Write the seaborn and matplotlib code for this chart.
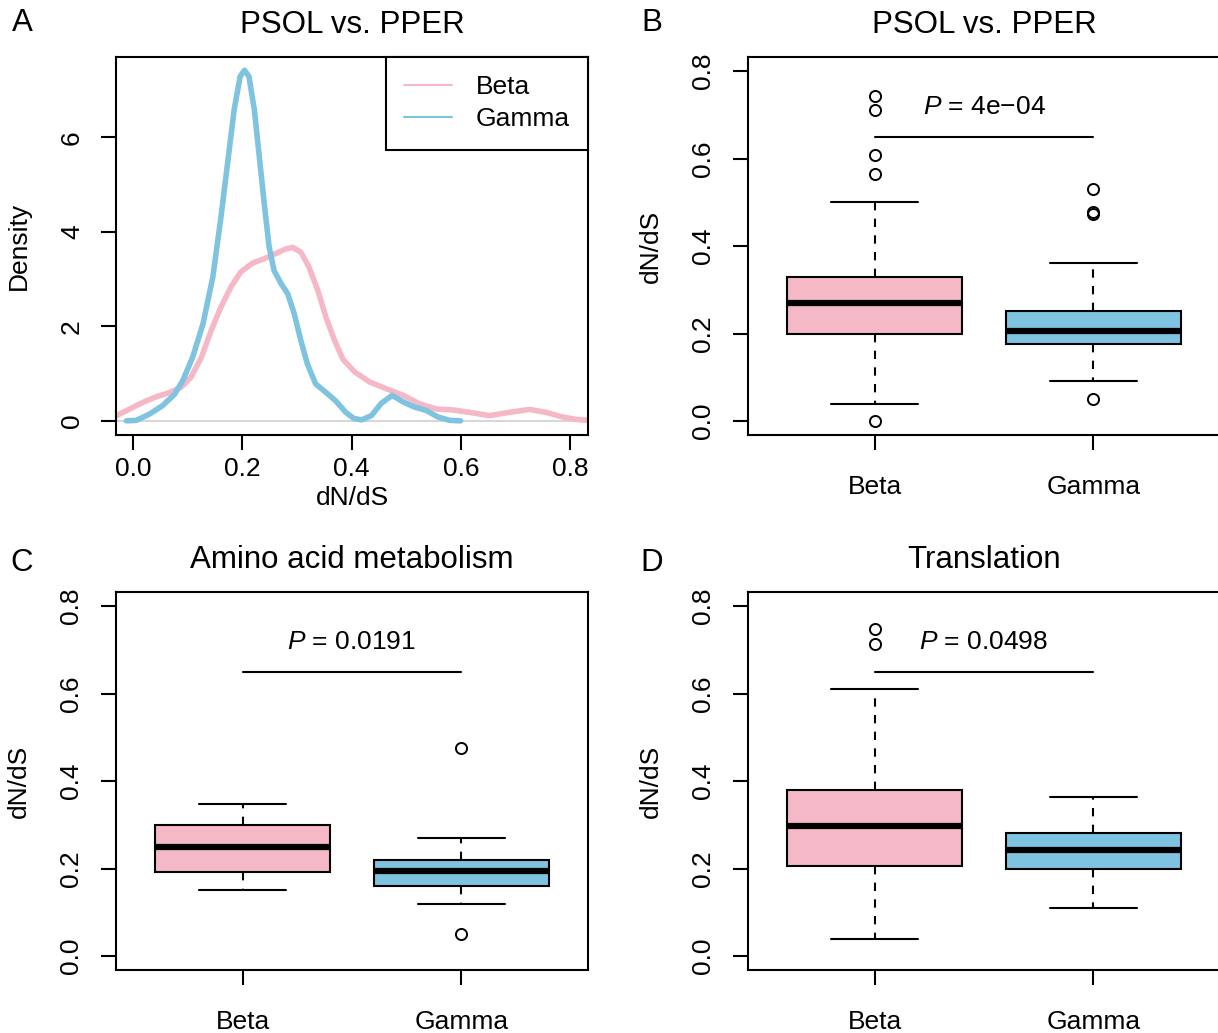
import numpy as np
import pandas as pd
import matplotlib
matplotlib.use("Agg")
import matplotlib.pyplot as plt
from matplotlib.lines import Line2D
import seaborn as sns

# ---------------- data ----------------
groups = ["Beta", "Gamma"]
colors = {"Beta": "#F5B8C6", "Gamma": "#7EC3E0"}

# Panel A: density curves
beta_x = [-0.030, -0.006, 0.018, 0.043, 0.067, 0.088, 0.106, 0.125, 0.143, 0.161,
          0.179, 0.197, 0.219, 0.240, 0.261, 0.280, 0.292, 0.307, 0.322, 0.338,
          0.353, 0.368, 0.384, 0.406, 0.433, 0.463, 0.494, 0.524, 0.555, 0.585,
          0.615, 0.652, 0.688, 0.725, 0.755, 0.786, 0.810, 0.831]
beta_y = [0.11, 0.25, 0.39, 0.51, 0.60, 0.71, 0.92, 1.34, 1.91, 2.41,
          2.83, 3.15, 3.34, 3.43, 3.54, 3.64, 3.67, 3.57, 3.25, 2.76,
          2.19, 1.72, 1.30, 1.03, 0.82, 0.68, 0.54, 0.36, 0.25, 0.23,
          0.18, 0.11, 0.18, 0.24, 0.18, 0.08, 0.03, 0.01]
gamma_x = [-0.012, 0.006, 0.030, 0.054, 0.076, 0.091, 0.109, 0.128, 0.146, 0.161,
           0.173, 0.185, 0.196, 0.204, 0.212, 0.222, 0.231, 0.240, 0.249, 0.258,
           0.271, 0.283, 0.295, 0.307, 0.319, 0.334, 0.353, 0.371, 0.389, 0.404,
           0.418, 0.436, 0.454, 0.474, 0.494, 0.515, 0.536, 0.558, 0.579, 0.599]
gamma_y = [0.00, 0.01, 0.14, 0.32, 0.56, 0.85, 1.34, 2.05, 3.04, 4.32,
           5.45, 6.58, 7.29, 7.42, 7.29, 6.58, 5.59, 4.60, 3.68, 3.18,
           2.90, 2.69, 2.26, 1.70, 1.20, 0.78, 0.60, 0.42, 0.18, 0.05,
           0.02, 0.11, 0.37, 0.54, 0.40, 0.29, 0.22, 0.08, 0.01, 0.00]

# Box statistics: [whislo, q1, med, q3, whishi]
B_beta = [0.038, 0.199, 0.270, 0.329, 0.500]
B_beta_fliers = [0.000, 0.565, 0.609, 0.712, 0.744]
B_gamma = [0.092, 0.175, 0.206, 0.251, 0.361]
B_gamma_fliers = [0.051, 0.473, 0.477, 0.531]

C_beta = [0.152, 0.192, 0.250, 0.299, 0.348]
C_beta_fliers = []
C_gamma = [0.118, 0.160, 0.194, 0.219, 0.270]
C_gamma_fliers = [0.051, 0.475]

D_beta = [0.038, 0.206, 0.298, 0.380, 0.610]
D_beta_fliers = [0.713, 0.748]
D_gamma = [0.110, 0.200, 0.242, 0.282, 0.363]
D_gamma_fliers = []

titles = ["PSOL vs. PPER", "PSOL vs. PPER", "Amino acid metabolism", "Translation"]
p_values = ["4e\u221204", "0.0191", "0.0498"]
panel_letters = ["A", "B", "C", "D"]
box_yticks = [0.0, 0.2, 0.4, 0.6, 0.8]
dens_xticks = [0.0, 0.2, 0.4, 0.6, 0.8]
dens_yticks = [0, 2, 4, 6]
sig_y = 0.65
p_y = 0.717

# ---------------- style ----------------
sns.set_style("ticks")
plt.rcParams["font.family"] = ["Liberation Sans", "DejaVu Sans"]
plt.rcParams["mathtext.fontset"] = "custom"
plt.rcParams["mathtext.rm"] = "Liberation Sans"
plt.rcParams["mathtext.it"] = "Liberation Sans:italic"
for k in ["text.color", "axes.labelcolor", "xtick.color", "ytick.color",
          "axes.edgecolor"]:
    plt.rcParams[k] = "black"

FS = 19
TFS = 22.5
LW = 1.5

fig = plt.figure(figsize=(12.18, 10.33), dpi=100)
W, H = 1218, 1033

def ax_at(l, t, r, b):
    return fig.add_axes([l / W, 1 - b / H, (r - l) / W, (b - t) / H])

axA = ax_at(116, 57, 588, 435)
axB = ax_at(748, 57, 1220, 435)
axC = ax_at(116, 592, 588, 970)
axD = ax_at(748, 592, 1220, 970)

def common(ax, xpad, ypad):
    for s in ax.spines.values():
        s.set_linewidth(LW)
        s.set_color("black")
        s.set_visible(True)
    ax.tick_params(axis="both", direction="out", length=11, width=LW,
                   labelsize=FS, colors="black")
    ax.tick_params(axis="x", pad=xpad)
    ax.tick_params(axis="y", pad=ypad, labelrotation=90)
    for lab in ax.get_yticklabels():
        lab.set_va("center")

# ---- Panel A ----
dfA = pd.concat([
    pd.DataFrame({"x": beta_x, "y": beta_y, "g": "Beta"}),
    pd.DataFrame({"x": gamma_x, "y": gamma_y, "g": "Gamma"}),
])
axA.axhline(0, color="#d0d0d0", lw=1.2, zorder=0)
sns.lineplot(data=dfA, x="x", y="y", hue="g", palette=colors, estimator=None,
             lw=4, ax=axA, legend=False)
for ln in axA.get_lines():
    ln.set_solid_joinstyle("round")
    ln.set_solid_capstyle("round")
axA.set_xlim(-0.031, 0.832)
axA.set_ylim(-0.30, 7.70)
axA.set_xticks(dens_xticks)
axA.set_xticklabels([f"{v:.1f}" for v in dens_xticks])
axA.set_yticks(dens_yticks)
axA.set_yticklabels([str(v) for v in dens_yticks])
axA.set_xlabel("dN/dS", fontsize=FS)
axA.set_ylabel("Density", fontsize=FS)
common(axA, 5, 12)
axA.xaxis.set_label_coords(0.5, -0.135)
axA.yaxis.set_label_coords(-0.18, 0.5)
handles = [Line2D([0], [0], color=colors[g], lw=1.5) for g in groups]
leg = axA.legend(handles, groups, loc="upper right", bbox_to_anchor=(1, 1),
                 borderaxespad=0, fontsize=FS, frameon=True, fancybox=False,
                 handlelength=1.8, handletextpad=0.9, labelspacing=0.3,
                 borderpad=0.7)
leg.get_frame().set_edgecolor("black")
leg.get_frame().set_linewidth(LW)
leg.get_frame().set_alpha(1)

# ---- Box panels ----
def box_panel(ax, beta, beta_fl, gamma, gamma_fl, ptxt):
    stats = []
    for g, s, fl in (("Beta", beta, beta_fl), ("Gamma", gamma, gamma_fl)):
        stats.append(dict(label=g, whislo=s[0], q1=s[1], med=s[2], q3=s[3],
                          whishi=s[4], fliers=np.array(fl)))
    bp = ax.bxp(stats, positions=[1, 2], widths=0.8, capwidths=0.4,
                patch_artist=True, showfliers=True,
                boxprops=dict(edgecolor="black", linewidth=LW),
                medianprops=dict(color="black", linewidth=4.5, solid_capstyle="butt"),
                whiskerprops=dict(color="black", linewidth=LW, linestyle=(0, (4, 4))),
                capprops=dict(color="black", linewidth=LW),
                flierprops=dict(marker="o", markerfacecolor="none",
                                markeredgecolor="black", markersize=8,
                                markeredgewidth=1.4, linestyle="none"))
    for patch, g in zip(bp["boxes"], groups):
        patch.set_facecolor(colors[g])
    ax.plot([1, 2], [sig_y, sig_y], color="black", lw=LW)
    ax.text(1.5, p_y, r"$\mathit{P}$ = " + ptxt, ha="center", va="center",
            fontsize=FS)
    ax.set_xlim(0.42, 2.58)
    ax.set_ylim(-0.032, 0.832)
    ax.set_xticks([1, 2])
    ax.set_xticklabels(groups)
    ax.set_yticks(box_yticks)
    ax.set_yticklabels([f"{v:.1f}" for v in box_yticks])
    ax.set_xlabel("")
    ax.set_ylabel("dN/dS", fontsize=FS)
    common(ax, 18, 13)
    ax.yaxis.set_label_coords(-0.18, 0.5)

box_panel(axB, B_beta, B_beta_fliers, B_gamma, B_gamma_fliers, p_values[0])
box_panel(axC, C_beta, C_beta_fliers, C_gamma, C_gamma_fliers, p_values[1])
box_panel(axD, D_beta, D_beta_fliers, D_gamma, D_gamma_fliers, p_values[2])

for ax, t in zip([axA, axB, axC, axD], titles):
    ax.set_title(t, fontsize=TFS, pad=17)

letter_pos = [(22, 23), (652, 23), (22, 563), (652, 563)]
for L, (x, y) in zip(panel_letters, letter_pos):
    fig.text(x / W, 1 - y / H, L, fontsize=TFS, ha="center", va="center")

fig.savefig("out.png", dpi=100)
